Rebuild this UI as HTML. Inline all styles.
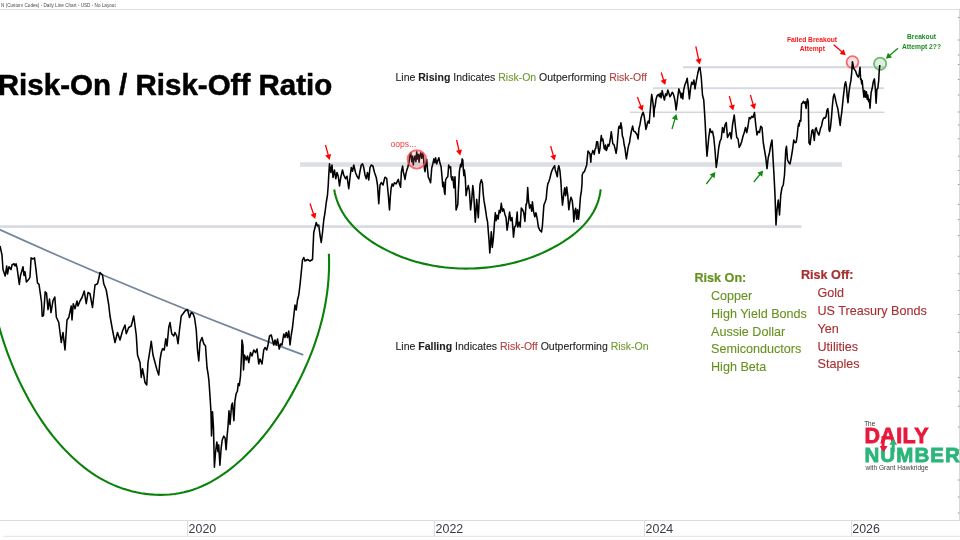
<!DOCTYPE html>
<html><head><meta charset="utf-8"><title>Risk-On / Risk-Off Ratio</title>
<style>
html,body{margin:0;padding:0;background:#fff;}
body{width:960px;height:540px;position:relative;overflow:hidden;font-family:"Liberation Sans",Arial,sans-serif;}
.t{position:absolute;white-space:nowrap;line-height:1;transform-origin:0 0;}
.hdr{left:1.1px;top:3.1px;font-size:5.2px;color:#4a4a4a;transform:scaleX(0.894);}
.title{left:-2.2px;top:69.6px;font-size:29.5px;font-weight:bold;color:#000;-webkit-text-stroke:0.5px #000;}
.ann{font-size:10.5px;color:#222;-webkit-text-stroke:0.1px currentColor;}
.g{color:#70992e}.r{color:#b0403f}
.lst{font-size:12.6px;-webkit-text-stroke:0.1px currentColor;}
.lst.b{-webkit-text-stroke:0.2px currentColor;}
.lg{color:#67921f}.lr{color:#a82e30}
.b{font-weight:bold}
.yr{font-size:12.4px;color:#353c46;top:523.1px;}
.sm{font-size:6.7px;font-weight:bold;text-align:center;width:70px;}
.red{color:#ff1414}.grn{color:#1a8c22}
</style></head><body>
<svg width="960" height="540" viewBox="0 0 960 540" style="position:absolute;left:0;top:0"><rect x="0" y="225.2" width="801.5" height="2.8" fill="#d9dde3"/><rect x="300" y="162.2" width="542" height="4.6" fill="#dcdfe4"/><rect x="630" y="111.55" width="254.5" height="1.5" fill="#d3d8de"/><rect x="653" y="87.2" width="231" height="2" fill="#d6dae0"/><rect x="683" y="66.1" width="201" height="2.2" fill="#d6dae0"/><path d="M-2 228.9 Q151.65 298.5 303.3 354.9" fill="none" stroke="#74869b" stroke-width="1.7"/><polyline points="-3.05,318.57 -1.84,323.29 -0.56,327.99 0.79,332.66 2.2,337.31 3.67,341.93 5.22,346.53 6.82,351.1 8.5,355.65 10.24,360.17 12.04,364.67 13.91,369.14 15.84,373.58 17.83,377.99 19.89,382.38 22.01,386.73 24.2,391.06 26.45,395.36 28.77,399.63 31.15,403.86 33.6,408.05 36.13,412.2 38.73,416.31 41.41,420.37 44.17,424.38 47.01,428.34 49.93,432.25 52.94,436.1 56.04,439.88 59.23,443.61 62.51,447.27 65.87,450.85 69.34,454.35 72.89,457.76 76.53,461.06 80.26,464.26 84.08,467.34 87.99,470.29 91.98,473.1 96.07,475.78 100.24,478.3 104.5,480.66 108.85,482.86 113.27,484.88 117.77,486.72 122.33,488.38 126.95,489.86 131.62,491.16 136.33,492.27 141.07,493.18 145.83,493.9 150.61,494.42 155.4,494.75 160.18,494.87 164.96,494.78 169.72,494.48 174.45,493.97 179.15,493.25 183.81,492.3 188.41,491.14 192.96,489.75 197.45,488.13 201.87,486.31 206.22,484.29 210.51,482.08 214.72,479.69 218.86,477.13 222.93,474.42 226.92,471.57 230.84,468.58 234.68,465.47 238.44,462.25 242.12,458.93 245.71,455.52 249.23,452.03 252.65,448.48 255.99,444.86 259.25,441.18 262.43,437.45 265.53,433.66 268.54,429.81 271.49,425.91 274.35,421.97 277.15,417.97 279.87,413.93 282.53,409.84 285.11,405.72 287.63,401.55 290.08,397.35 292.47,393.11 294.8,388.84 297.07,384.54 299.28,380.21 301.42,375.85 303.5,371.46 305.51,367.04 307.46,362.59 309.33,358.11 311.13,353.61 312.85,349.08 314.5,344.53 316.07,339.95 317.57,335.34 318.98,330.72 320.3,326.06 321.54,321.39 322.7,316.69 323.76,311.97 324.73,307.23 325.61,302.46 326.4,297.68 327.09,292.87 327.68,288.05 328.17,283.21 328.56,278.35 328.84,273.47 329.02,268.57 329.09,263.66 329.05,258.73 328.9,253.79" fill="none" stroke="#0a820a" stroke-width="2.1" stroke-linejoin="round"/><polyline points="334.22,189.52 334.88,192.96 335.71,196.31 336.71,199.57 337.86,202.74 339.17,205.82 340.62,208.82 342.21,211.73 343.93,214.56 345.78,217.3 347.75,219.97 349.83,222.55 352.02,225.04 354.32,227.46 356.71,229.81 359.19,232.07 361.75,234.26 364.38,236.37 367.09,238.41 369.87,240.37 372.7,242.26 375.58,244.08 378.51,245.83 381.48,247.52 384.48,249.13 387.51,250.68 390.56,252.16 393.64,253.57 396.74,254.92 399.86,256.2 403,257.42 406.17,258.57 409.35,259.65 412.56,260.68 415.78,261.64 419.02,262.53 422.27,263.36 425.54,264.13 428.83,264.84 432.13,265.48 435.44,266.07 438.76,266.59 442.1,267.05 445.44,267.45 448.8,267.78 452.16,268.06 455.53,268.28 458.91,268.44 462.3,268.54 465.69,268.58 469.08,268.56 472.48,268.48 475.88,268.35 479.27,268.16 482.67,267.9 486.07,267.59 489.46,267.22 492.84,266.79 496.22,266.3 499.59,265.75 502.95,265.15 506.3,264.48 509.63,263.75 512.95,262.96 516.25,262.11 519.53,261.21 522.8,260.24 526.04,259.21 529.26,258.12 532.46,256.96 535.63,255.75 538.77,254.48 541.89,253.14 544.97,251.74 548.02,250.29 551.04,248.76 554.03,247.18 556.98,245.54 559.89,243.83 562.76,242.06 565.59,240.22 568.36,238.32 571.08,236.35 573.73,234.31 576.31,232.19 578.8,230 581.2,227.72 583.51,225.36 585.71,222.91 587.79,220.37 589.76,217.74 591.59,215.01 593.29,212.19 594.85,209.26 596.25,206.23 597.49,203.09 598.57,199.84 599.46,196.48 600.18,193.01 600.7,189.41" fill="none" stroke="#0a820a" stroke-width="2.1" stroke-linejoin="round"/><circle cx="852.5" cy="62.1" r="5.9" fill="rgba(250,110,115,0.2)" stroke="#fa6a6a" stroke-width="1.8"/><circle cx="880.1" cy="63.8" r="6.1" fill="rgba(90,175,90,0.2)" stroke="#6cbd6c" stroke-width="1.8"/><polyline points="0,246 2,255 3,269.6 5.2,276 6.7,266 7.5,274 9,266.7 11,269.6 12,265 14,263.7 15,266 16,263.7 17,267.4 19.3,284.4 20.5,275.5 23,266.7 24,275.5 25,271.8 26.4,282 29,279 30,277 31.1,257.8 33,259 34.5,257.8 36,269.6 37.5,283 39,284.4 40.5,294.8 41.5,302 42.2,316.3 43.5,315.5 45.2,291.9 46.5,293 48,309.6 49.5,299 51,312.6 53,300.7 54.8,297 56.3,317 58.75,322.5 61.25,342.5 63,332.5 65,350 67,320 68.75,317.5 71.25,306 72,320 73.25,303.75 75,308.75 77,301 78,306 80,301 82,297.5 84.25,291 86.25,303.75 88,292.5 90,293.75 92.5,307.5 95,285 97.5,283.75 98.75,278.75 100,272.5 102.5,275 103.75,283.75 106.25,290 108.75,305 110,316 112.5,330 115,342.5 117.5,332.5 120,340 122.5,331 125,325 126.25,333.75 128.75,327.5 131.25,326 133.75,316 136.25,335 137.5,355 140,362.5 141.25,377.5 142.5,368.75 143.75,375 145,382.5 146.75,385 148,362.5 150,350 151.25,341.25 153,355 155,362.5 157,370 158.75,375 160,360 161.25,352.5 162.5,348.75 164.25,350 165.75,338.75 167,346 168.75,327.5 170,322.5 171.75,333.75 173.75,336 175,332.5 176.75,336 178,343.75 179.5,330 181.25,316 183,313.75 185,311 187.5,309.5 189.5,317.5 191.25,312.5 193,313.75 194.5,317.5 196.25,330 197.5,350 198.75,361 200,342.5 202,337.5 203.75,343.75 205.5,346 207,367.5 208.25,375 209,381.7 210.2,399.2 211,412.8 211.5,436 212.5,411.8 213.5,428.3 214.4,467.2 215.4,453.6 216.8,442 218,451.7 218.7,444.9 219.9,465.3 221.2,447.8 222.2,440 223.8,436.1 225.1,438 226.1,449.7 227.1,436.1 228,426.4 229,410.8 230,424.4 231.6,405 232.5,403 233.9,420.6 234.9,401.1 236.2,393.3 237.4,391.4 238.2,383.6 239.3,385.6 240.5,376 241.5,355 242,340 243,346 243.5,370 244.5,355 246.25,360 247.5,356 248.75,362.5 250.5,352.5 252,356 253.75,350 255.5,352.5 257,349 258.75,364 260,359 262,364 263.75,350 265,347.5 266.75,350 268,345 269.5,336 271.25,335 272.5,340 273.75,345 275,340 276.25,345 277.5,339 279.25,349 280.5,344 282,345 283.75,334 285,337.5 286.25,332.5 287.5,337.5 288.75,331 290,345 291.25,335 292.5,327.5 293.75,316 295,305 296.25,310 297.5,300 298.75,295 300,285 301,275 302.5,260 303.75,257.5 305,261 307.5,259.5 310,261 312.5,259.5 313.75,232.5 315,227.5 316.25,222.5 317.5,226 318.75,225 320,235 321.25,242.5 322.5,232.5 323.75,220 325,212.5 326.25,202.5 327.5,195 328.25,185 328.75,175 329.5,163.75 330.75,172.5 332,165 333,177.5 334.5,170 335.75,178.75 337,172.5 338.25,176.25 339.5,186 340.75,177.5 342.5,170 343.75,175 345.5,178.75 347,176.25 348.75,188.75 350,177.5 351.25,167.5 352.5,171.25 353.75,165 355.5,172.5 357,176.25 358.75,178.75 360,171.25 361.25,165 362.5,163.75 363.75,167.5 365,175 366.25,178.75 367.5,172.5 368.75,180 370,167.5 371.25,165 373,166.25 374.5,172.5 376.25,177.5 377.5,185 378.75,203.75 380,185 381.25,182.5 383,185 384.5,178.75 385,177.2 386.7,178.3 388.3,195 389.5,210 390.3,197 391.1,188.3 392.2,183.9 393.3,186.1 394.4,182.8 396.1,183.9 397.2,181.7 398.3,179.4 399.4,183.9 400.6,187.2 401.4,171.7 402.6,166.1 403.3,171.7 404.1,175 405,179.4 405.9,173.9 406.7,170.6 407.8,167.2 408.9,162.8 410,154.4 410.8,152.8 411.7,161.7 412.6,156.1 413.3,165 414.1,158.9 415,156.1 415.9,161.7 416.7,151.7 417.4,158.9 418.3,154.4 419.1,162.2 420,155 420.8,152.8 421.7,158.3 422.6,153.3 423.3,155 423.9,162.8 424.4,168.3 425,171.7 425.9,162.8 426.7,159.4 427.2,166.1 428.3,177.2 429.4,179.4 430.6,182.8 431.7,168.3 432.8,163.9 433.9,158.9 434.8,162.8 435.6,157.8 436.7,163.9 437.8,160.6 438.9,157.8 440,163.3 441.1,166.7 442,176.7 442.8,186.7 443.6,182.2 444.4,192.2 445,194.4 445.6,180 446.7,177.8 447.8,176.7 448.7,165 449.4,167.8 450.6,166.7 451.1,176.7 452,180 452.8,176.7 453.9,187.8 455,176.7 456.1,210 457.8,204.4 458.3,192.2 459.4,171.1 460.6,164.4 461.3,166.7 462.2,158.9 462.8,160 463.3,168.9 463.9,175.6 464.4,170 465.3,177.8 466.1,195.6 467,190 468.3,185.6 469.4,191.1 470.6,210 471.7,200 472.8,185.6 473.6,192.2 475.3,222.2 476.7,199.4 478.3,217.8 480,184.4 481.3,179.7 482.4,182.9 483.1,192.3 483.9,200.2 485,206.5 486,212.8 486.6,217.5 487.6,222.2 488.2,230.1 489.1,241.1 489.8,253 490.7,241.1 491.3,231.7 492.3,247.4 493.4,238 494.5,222.2 495.3,212.8 496.1,220.7 497,215.2 498.1,219.1 499.2,210.4 500.2,212.8 501.3,203.3 502.4,211.2 503.6,208.9 504.9,214.4 506,217.5 507.1,230.1 508.3,222.2 509.6,212 510.7,220.7 512,217.5 512.8,227 513.5,237.2 514.6,227 515.9,225.4 517.2,212 517.8,227 519.1,222.2 520.2,227 521.3,208.1 522.5,209.6 523.8,212.8 524.9,221.5 526,204.9 526.9,202.6 527.7,187.6 528.5,200.2 529.6,208.1 530.7,204.9 531.7,211.2 532.4,201.8 533.5,211.2 534.8,216.7 535.9,212.8 536,213 537.3,219.3 538.4,227.2 539.9,230.3 541.5,231.9 542.3,227.2 543.1,216.1 543.9,205.1 545.1,202 546.2,198.8 547,189.4 547.8,183.9 548.9,181.5 549.9,178.3 551,173.6 551.7,171.3 552.7,168.9 553.6,167.3 554.6,165.7 555.2,169.7 556.2,172.8 557.3,176.8 558,168.9 558.8,165.7 559.9,170.5 560.9,181.5 561.7,195.7 562.5,205.1 563.6,195.7 564.7,187.8 565.6,195.7 566.7,187 567.8,195.7 568.8,209.8 569.9,202 571,197.2 572.2,200.4 573.2,209.8 573.8,221.7 574.7,211.4 575.7,208.3 576.6,219.3 577.6,209.8 578.5,219.3 579.5,209.8 580.4,197.2 581.4,190.9 582,184 582.2,175 583.3,172.2 584.4,171.7 585.6,168.3 586.7,165 587.2,159.4 588,151.1 588.9,152.2 590,153.9 590.8,162.2 591.3,155 592.2,152.8 592.8,150.6 593.6,151.7 594.2,154.4 595,149.4 595.8,148.3 596.7,141.7 597.6,141.7 598.3,148.3 599.1,153.3 600,148.3 600.6,141.7 601.3,135.6 602,140.6 602.8,138.9 603.3,141.7 604.2,148.3 605,149.4 605.6,145 606.4,150.6 607.2,148.3 608,144.4 608.9,146.1 609.8,142.2 610.6,137.2 611.3,131.7 612,137.2 612.8,143.9 613.9,144.4 615,148.3 616.1,153.3 616.9,148.3 617.8,137.2 618.7,127.2 619.4,126.1 620.2,128.3 620.9,122.8 621.7,127.2 622.4,136.1 623.3,138.3 624.2,145 625,148.3 625.8,155 626.4,158.9 627.2,153.9 628,148.3 628.9,144.4 629.6,142.5 630,138.9 631.4,131.1 632.6,126.1 633.7,131.1 635,131.7 636.1,133.3 637,134.4 638.1,138.9 638.9,128.9 640,124.4 641.1,117.8 642.2,114.4 643.1,112.2 644.1,115.6 645,122.2 645.9,129.4 646.7,126.7 647.6,122.2 648.3,121.1 649.2,123.3 650,113.3 650.8,104.4 651.7,94.4 652.6,100 653.3,105.6 653.9,116.7 654.4,108.9 655.2,105.6 656.1,98.9 657.2,95.6 658.3,94.4 659.4,96.7 660.3,93.3 661.1,97.8 662.2,90.6 663.3,95.6 664.4,100 665.6,93.9 666.7,95.6 667.8,90 668.9,93.3 670,96.7 671.1,95 672.2,92.2 673.3,93.9 674.4,97.8 675.2,102.2 676.1,110 677,103.3 677.8,96.7 678.9,88.9 680,92.2 681.1,97.8 681.9,93.3 682.8,98.9 683.7,90 685,84.4 686.1,82.2 687.2,78.3 688.3,87.8 689.4,98.9 690.6,87.8 691.7,82.2 692.8,84.4 693.9,80 695,88.9 696.7,78.9 697.8,73.3 699.1,67.8 700,67.5 701.25,77.5 702.5,95 703.75,100 705,120 706.25,145 707,156.25 708.75,137.5 710,128.75 711.25,132.5 712.5,131.25 713.75,137.5 715,150 716.25,167.5 717.5,158.75 718.75,147.5 720,141.25 721.25,138.75 722.5,127.5 723.75,132.5 725,125 726.25,122.5 727.5,137.5 728.75,135 730,132.5 731.25,138.75 732.5,125 734.25,115 735.5,127.5 736.75,137.5 738,138.75 739.25,147.5 740.5,145 741.75,141.25 743,136.25 744.25,132.5 745.5,127.5 746.75,132.5 748,126.25 749.25,117.5 750.5,118.75 751.75,116.25 753,117.5 754.5,112.5 755.75,125 757,135 758.25,131.25 759.5,132.5 760.75,126.25 762,127.5 763.25,142.5 764.5,150 765.75,157.5 767,168.75 768.25,157.5 769.5,152.5 770.75,145 772,140 773.25,162.5 774,175 775,195 776,225 777,210 778.25,200 779.5,215 780.75,195 782,187.5 783.25,185 784.5,175 785.75,150 786.5,146.25 787.5,160 788.75,162.5 790,164 791.25,157.5 792.5,150 793.75,140 795,142.8 796.2,142.2 797.2,135.6 798,127.2 798.6,123.6 799.2,126 799.8,120.5 800.8,121.1 801.3,109.1 801.6,103.7 802.5,103.1 803.4,101.3 804.4,103.1 805.2,101.9 806.1,108.5 806.8,101.9 807.5,98.9 808.3,101.9 808.6,121.1 809,142.8 810.1,144.6 810.9,138 811.9,130.8 812.8,129.6 813.7,135.6 814.3,140.4 815.2,129.6 816.1,127.8 816.9,130.8 817.9,133.2 818.9,135 819.7,132 820.5,128.4 821.5,126 822.5,121.1 823.3,118.7 824.3,117.5 825.1,118.1 826.1,116.3 826.9,110.3 827.8,108.5 828.5,113.9 829,129.6 829.7,131.4 830.5,127.2 831.4,118.7 832.3,106.7 833.3,97 834.2,94 835,97 836,101.9 836.9,105.5 837.8,108.5 838.6,113.9 839.6,121.1 840.2,125.4 841,117.5 841.7,112.8 843.3,97.2 844.7,85 845.6,81.7 846.4,86.1 847.2,96.1 848,102.8 848.9,92.8 849.8,86.1 850.9,80.6 851.7,72.8 852.4,61.7 853.1,65 853.6,68.3 854.4,69.4 855.6,71.1 856.7,74.4 857.6,76.1 858.3,77.2 859.1,74.4 860,67.2 860.6,79.4 861.1,78.9 861.7,83.9 862.2,80.6 862.8,87.2 863.3,91.7 863.9,97.2 864.7,90.6 865.6,97.2 866.4,91.7 867.2,99.4 867.8,95 868.7,101.7 869.4,99.4 870,108.3 870.6,99.4 871.1,92.8 872.2,88.3 873.3,81.7 874.4,78.9 875.3,88.3 876.1,103.3 876.9,89.4 877.8,88.3 878.7,80.6 879.1,72.8 879.8,65" fill="none" stroke="#000" stroke-width="1.55" stroke-linejoin="round"/><circle cx="416.8" cy="159.4" r="9.2" fill="rgba(240,110,120,0.2)" stroke="rgba(255,70,70,0.8)" stroke-width="1.9"/><line x1="310" y1="203.5" x2="313.77" y2="214.73" stroke="#ff0000" stroke-width="1.3"/><polygon points="315.2,219 310.51,214.77 316.39,212.8" fill="#ff0000"/><line x1="325.5" y1="145" x2="328.41" y2="155.66" stroke="#ff0000" stroke-width="1.3"/><polygon points="329.6,160 325.16,155.51 331.14,153.88" fill="#ff0000"/><line x1="456.6" y1="140" x2="459.18" y2="151.12" stroke="#ff0000" stroke-width="1.3"/><polygon points="460.2,155.5 455.94,150.84 461.98,149.44" fill="#ff0000"/><line x1="550.7" y1="146" x2="553.43" y2="156.15" stroke="#ff0000" stroke-width="1.3"/><polygon points="554.6,160.5 550.18,155.99 556.17,154.38" fill="#ff0000"/><line x1="637.4" y1="97" x2="641.03" y2="106.78" stroke="#ff0000" stroke-width="1.3"/><polygon points="642.6,111 637.78,106.92 643.59,104.76" fill="#ff0000"/><line x1="661.2" y1="72.5" x2="663.83" y2="80.71" stroke="#ff0000" stroke-width="1.3"/><polygon points="665.2,85 660.57,80.71 666.48,78.82" fill="#ff0000"/><line x1="695.8" y1="46.4" x2="698.75" y2="60" stroke="#ff0000" stroke-width="1.3"/><polygon points="699.7,64.4 695.51,59.68 701.57,58.37" fill="#ff0000"/><line x1="729.3" y1="96" x2="732.03" y2="106.15" stroke="#ff0000" stroke-width="1.3"/><polygon points="733.2,110.5 728.78,105.99 734.77,104.38" fill="#ff0000"/><line x1="750.4" y1="95" x2="753.35" y2="105.18" stroke="#ff0000" stroke-width="1.3"/><polygon points="754.6,109.5 750.09,105.08 756.05,103.35" fill="#ff0000"/><line x1="833.7" y1="44.7" x2="842.42" y2="52.33" stroke="#ff0000" stroke-width="1.3"/><polygon points="845.8,55.3 839.62,54.01 843.71,49.34" fill="#ff0000"/><line x1="672" y1="129" x2="675.13" y2="118.32" stroke="#138a13" stroke-width="1.3"/><polygon points="676.4,114 677.83,120.15 671.88,118.41" fill="#138a13"/><line x1="706.3" y1="184" x2="712.68" y2="175.59" stroke="#138a13" stroke-width="1.3"/><polygon points="715.4,172 714.55,178.26 709.61,174.51" fill="#138a13"/><line x1="753.8" y1="182" x2="760.35" y2="173.98" stroke="#138a13" stroke-width="1.3"/><polygon points="763.2,170.5 762.12,176.72 757.32,172.8" fill="#138a13"/><line x1="898" y1="48.3" x2="889.22" y2="55.78" stroke="#138a13" stroke-width="1.3"/><polygon points="885.8,58.7 887.97,52.77 892,57.49" fill="#138a13"/><rect x="0" y="9.1" width="959.5" height="1" fill="#dcdcdc"/><rect x="959" y="9" width="1" height="512" fill="#d8d8d8"/><rect x="0" y="520" width="960" height="1" fill="#dcdcdc"/><rect x="3.3" y="535.8" width="957" height="1" fill="#e4e4e4"/><rect x="187" y="520" width="1" height="16" fill="#dcdcdc"/><rect x="434" y="520" width="1" height="16" fill="#dcdcdc"/><rect x="644" y="520" width="1" height="16" fill="#dcdcdc"/><rect x="851" y="520" width="1" height="16" fill="#dcdcdc"/><rect x="957.8" y="17" width="1.6" height="1" fill="#9a9a9a"/><rect x="957.8" y="39.5" width="1.6" height="1" fill="#9a9a9a"/><rect x="957.8" y="54.5" width="1.6" height="1" fill="#9a9a9a"/><rect x="957.8" y="64" width="1.6" height="1" fill="#9a9a9a"/><rect x="957.8" y="79" width="1.6" height="1" fill="#9a9a9a"/><rect x="957.8" y="94.5" width="1.6" height="1" fill="#9a9a9a"/><rect x="957.8" y="111.5" width="1.6" height="1" fill="#9a9a9a"/><rect x="957.8" y="124.5" width="1.6" height="1" fill="#9a9a9a"/><rect x="957.8" y="138.25" width="1.6" height="1" fill="#9a9a9a"/><rect x="957.8" y="155.75" width="1.6" height="1" fill="#9a9a9a"/><rect x="957.8" y="170" width="1.6" height="1" fill="#9a9a9a"/><rect x="957.8" y="184" width="1.6" height="1" fill="#9a9a9a"/><rect x="957.8" y="204" width="1.6" height="1" fill="#9a9a9a"/><rect x="957.8" y="219" width="1.6" height="1" fill="#9a9a9a"/><rect x="957.8" y="235" width="1.6" height="1" fill="#9a9a9a"/><rect x="957.8" y="255.75" width="1.6" height="1" fill="#9a9a9a"/><rect x="957.8" y="273.25" width="1.6" height="1" fill="#9a9a9a"/><rect x="957.8" y="290" width="1.6" height="1" fill="#9a9a9a"/><rect x="957.8" y="314" width="1.6" height="1" fill="#9a9a9a"/><rect x="957.8" y="332" width="1.6" height="1" fill="#9a9a9a"/><rect x="957.8" y="351" width="1.6" height="1" fill="#9a9a9a"/><rect x="957.8" y="377" width="1.6" height="1" fill="#9a9a9a"/><rect x="957.8" y="390.75" width="1.6" height="1" fill="#9a9a9a"/><rect x="957.8" y="405.75" width="1.6" height="1" fill="#9a9a9a"/><rect x="957.8" y="426.5" width="1.6" height="1" fill="#9a9a9a"/><rect x="957.8" y="449" width="1.6" height="1" fill="#9a9a9a"/><rect x="957.8" y="479.5" width="1.6" height="1" fill="#9a9a9a"/><rect x="957.8" y="496.5" width="1.6" height="1" fill="#9a9a9a"/><rect x="957.8" y="512.5" width="1.6" height="1" fill="#9a9a9a"/></svg>
<div class="t hdr">N (Custom Codes) - Daily Line Chart - USD - No Layout</div>
<div class="t title">Risk-On / Risk-Off Ratio</div>
<div class="t ann" style="left:395.5px;top:71.8px">Line <b>Rising</b> Indicates <span class="g">Risk-On</span> Outperforming <span class="r">Risk-Off</span></div>
<div class="t ann" style="left:395.5px;top:340.9px">Line <b>Falling</b> Indicates <span class="r">Risk-Off</span> Outperforming <span class="g">Risk-On</span></div>
<div class="t lst lg b" style="left:694.5px;top:271.53px">Risk On:</div>
<div class="t lst lg" style="left:711px;top:290.43px">Copper</div>
<div class="t lst lg" style="left:711px;top:308.03px">High Yield Bonds</div>
<div class="t lst lg" style="left:711px;top:325.63px">Aussie Dollar</div>
<div class="t lst lg" style="left:711px;top:343.23px">Semiconductors</div>
<div class="t lst lg" style="left:711px;top:360.83px">High Beta</div>
<div class="t lst lr b" style="left:801px;top:269.1px">Risk Off:</div>
<div class="t lst lr" style="left:817.5px;top:287.43px">Gold</div>
<div class="t lst lr" style="left:817.5px;top:305.33px">US Treasury Bonds</div>
<div class="t lst lr" style="left:817.5px;top:322.93px">Yen</div>
<div class="t lst lr" style="left:817.5px;top:340.53px">Utilities</div>
<div class="t lst lr" style="left:817.5px;top:358.13px">Staples</div>
<div class="t" style="left:390.5px;top:139.8px;font-size:8.6px;color:#ee3c3c">oops...</div>
<div class="t sm red" style="left:777px;top:37px">Failed Breakout</div>
<div class="t sm red" style="left:777.3px;top:45.8px">Attempt</div>
<div class="t sm grn" style="left:886.5px;top:34.3px">Breakout</div>
<div class="t sm grn" style="left:886.5px;top:43.5px">Attempt 2??</div>
<div class="t yr" style="left:188.6px">2020</div>
<div class="t yr" style="left:435.6px">2022</div>
<div class="t yr" style="left:645.6px">2024</div>
<div class="t yr" style="left:852.3px">2026</div>
<div class="t" style="left:864.2px;top:420.5px;font-size:6.4px;color:#333">The</div>
<div class="t b" style="left:864.4px;top:426.1px;font-size:21.5px;color:#e8193c;letter-spacing:0.4px;-webkit-text-stroke:0.8px #e8193c">DAILY</div>
<div class="t b" style="left:864.4px;top:445px;font-size:20.5px;color:#2bb57a;letter-spacing:1.1px;-webkit-text-stroke:0.8px #2bb57a">NUMBER</div>
<div class="t" style="left:865.4px;top:464.7px;font-size:6.6px;color:#444">with Grant Hawkridge</div>
<svg width="960" height="540" style="position:absolute;left:0;top:0"><path d="M883 436 V447" stroke="#e8193c" stroke-width="3"/><polygon points="879.6,446 887.6,446 883.6,452.3" fill="#e8193c"/><path d="M893.2 452 V444" stroke="#2bb57a" stroke-width="3"/><polygon points="889.2,444.8 897.2,444.8 893.2,439" fill="#2bb57a"/></svg>
</body></html>
